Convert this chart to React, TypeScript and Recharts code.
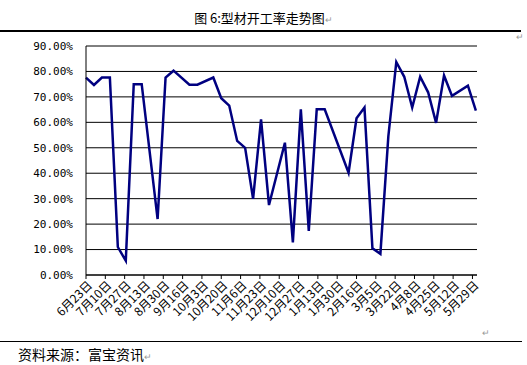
import { CartesianGrid, Line, LineChart, XAxis, YAxis } from "recharts";

// week offsets from 6月23日 (weekly data, a few weeks missing)
const weeks = [
  0, 1, 2, 3, 4, 5, 6, 7, 9, 10, 11, 13, 14, 16, 17, 18, 19, 20, 21, 22, 23, 25, 26, 27, 28, 29, 30,
  33, 34, 35, 36, 37, 38, 39, 40, 41, 42, 43, 44, 45, 46, 48, 49,
];

const rates = [
  77.6, 74.7, 77.6, 77.6, 11.0, 5.6, 75.0, 75.0, 22.0, 77.6, 80.3, 74.8, 74.8, 77.6, 69.5, 66.6, 52.7,
  50.0, 29.9, 61.2, 27.5, 52.0, 12.8, 65.1, 17.3, 65.1, 65.1, 40.2, 61.6, 65.8, 10.5, 8.3, 54.5, 83.7,
  77.9, 65.8, 77.9, 71.8, 59.8, 78.4, 70.4, 74.4, 64.6,
];

const tickLabels = [
  "6月23日", "7月10日", "7月27日", "8月13日", "8月30日", "9月16日", "10月3日", "10月20日",
  "11月6日", "11月23日", "12月10日", "12月27日", "1月13日", "1月30日", "2月16日", "3月5日",
  "3月22日", "4月8日", "4月25日", "5月12日", "5月29日",
];

const yTicks = [0, 10, 20, 30, 40, 50, 60, 70, 80, 90];

const TICK_DAYS = 17;

const data = weeks.map((w, i) => ({ day: w * 7, rate: rates[i] }));
const xTicks = tickLabels.map((_, i) => i * TICK_DAYS);

const cjk = '"Noto Sans CJK SC", "Noto Sans", sans-serif';

function DateTick(props: any) {
  const { x, y, payload } = props;
  const idx = Math.round(payload.value / TICK_DAYS);
  return (
    <g transform={`translate(${x + 4},${y + 2})`}>
      <text
        textAnchor="end"
        transform="rotate(-45)"
        dy="0.35em"
        fontSize={12}
        fontFamily={cjk}
        fill="#000"
      >
        {tickLabels[idx]}
      </text>
    </g>
  );
}

export default function App() {
  return (
    <div
      style={{
        position: "absolute",
        left: 0,
        top: 0,
        width: 527,
        height: 365,
        background: "#fff",
        overflow: "hidden",
        fontFamily: cjk,
      }}
    >
      <div
        style={{
          position: "absolute",
          top: 9,
          left: 0,
          width: 527,
          textAlign: "center",
          fontSize: 13,
          lineHeight: "18px",
          color: "#000",
        }}
      >
        图 6:型材开工率走势图<span style={{ color: "#999", fontSize: 9 }}>↵</span>
      </div>
      <div style={{ position: "absolute", top: 30, left: 0, width: 521, height: 1.5, background: "#000" }} />
      <div style={{ position: "absolute", top: 30, left: 516, fontSize: 9, color: "#999" }}>↵</div>

      <div style={{ position: "absolute", top: 0, left: 0 }}>
        <LineChart
          width={527}
          height={340}
          data={data}
          margin={{ top: 46, right: 50, left: 0, bottom: 0 }}
        >
          <CartesianGrid vertical={false} stroke="#000" strokeWidth={1} />
          <XAxis
            dataKey="day"
            type="number"
            domain={[0, 344]}
            ticks={xTicks}
            interval={0}
            height={65}
            axisLine={{ stroke: "#000" }}
            tickLine={{ stroke: "#000" }}
            tickSize={4}
            tickMargin={2}
            tick={<DateTick />}
          />
          <YAxis
            type="number"
            domain={[0, 90]}
            ticks={yTicks}
            width={86}
            axisLine={{ stroke: "#000" }}
            tickLine={false}
            tickSize={0}
            tickMargin={13}
            tick={{ fill: "#000", fontSize: 11, fontFamily: '"DejaVu Sans Mono", monospace' }}
            tickFormatter={(v: number) => `${v.toFixed(2)}%`}
          />
          <Line
            type="linear"
            dataKey="rate"
            stroke="#000080"
            strokeWidth={2.5}
            dot={false}
            isAnimationActive={false}
          />
        </LineChart>
      </div>

      <div style={{ position: "absolute", top: 326, left: 482, fontSize: 9, color: "#999" }}>↵</div>
      <div style={{ position: "absolute", top: 341, left: 0, width: 522, height: 1, background: "#000" }} />
      <div
        style={{
          position: "absolute",
          top: 345,
          left: 18,
          fontSize: 14,
          lineHeight: "18px",
          color: "#000",
        }}
      >
        资料来源：富宝资讯<span style={{ color: "#999", fontSize: 9 }}>↵</span>
      </div>
    </div>
  );
}
